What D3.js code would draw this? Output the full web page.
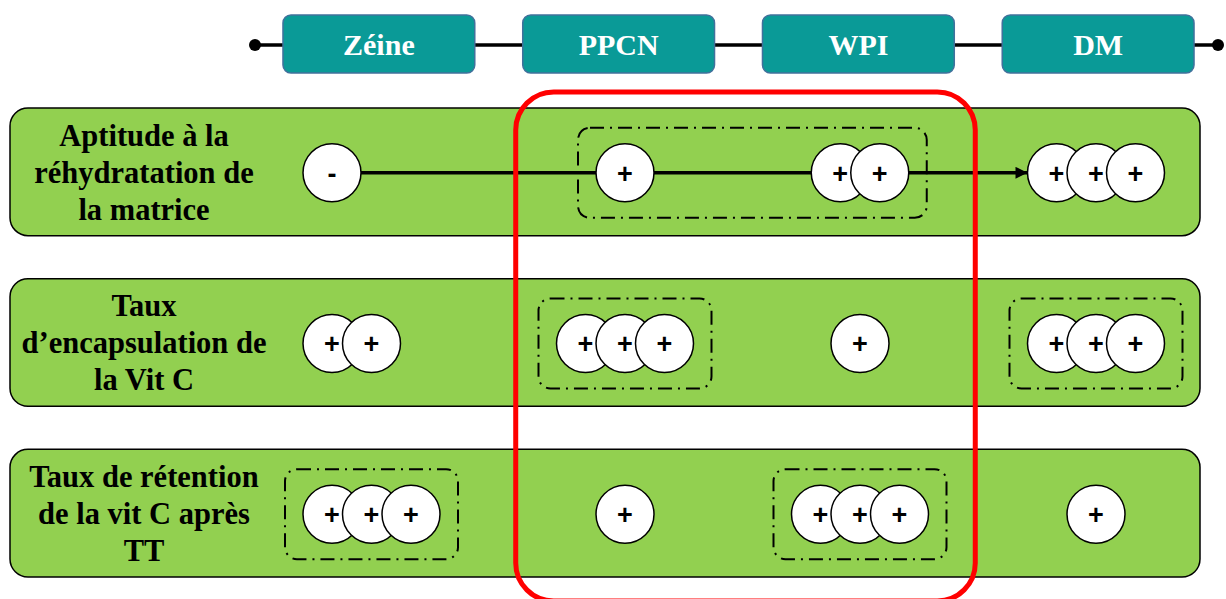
<!DOCTYPE html>
<html>
<head>
<meta charset="utf-8">
<script src="https://cdn.jsdelivr.net/npm/d3@7"></script>
<style>
  html, body { margin: 0; padding: 0; background: #fff; }
  svg { display: block; }
</style>
</head>
<body>
<svg id="chart" width="1226" height="599"></svg>
<script>
// ---------- data ----------
const columns = ["Zéine", "PPCN", "WPI", "DM"];
const criteria = [
  ["Aptitude à la", "réhydratation de", "la matrice"],
  ["Taux", "d’encapsulation de", "la Vit C"],
  ["Taux de rétention", "de la vit C après", "TT"]
];
const scores = [
  ["-", "+", "++", "+++"],
  ["++", "+++", "+", "+++"],
  ["+++", "+", "+++", "+"]
];
const groupedCols = [
  [["PPCN", "WPI"]],
  [["PPCN"], ["DM"]],
  [["Zéine"], ["WPI"]]
];
const trendRows = [0];
const highlighted = ["PPCN", "WPI"];

// ---------- layout ----------
const svg = d3.select("#chart");
const R = 29, STEP = 39.5;

const xHead = d3.scaleBand().domain(columns).range([259, 1218]).paddingInner(0.2).paddingOuter(0.1);
// anchor of each column's circle group; first column is left-aligned after the label area
const xMark = d3.scaleOrdinal().domain(columns).range([303, 625, 860, 1096]);
const alignOf = d3.scaleOrdinal().domain(columns).range(["start", "middle", "middle", "middle"]);
const yRow = d3.scaleBand().domain(d3.range(criteria.length)).range([108, 577]).paddingInner(0.252).paddingOuter(0);

function halfW(score) { return (score.length - 1) / 2 * STEP + R; }
function centerOf(score, col) {
  return alignOf(col) === "start" ? xMark(col) + halfW(score) : xMark(col);
}
function circlesOf(score, col) {
  const n = score.length;
  const cx = centerOf(score, col);
  return d3.range(n).map(i => ({ x: cx + (i - (n - 1) / 2) * STEP, sign: score[i] }));
}

// ---------- header ----------
const head = svg.append("g");
head.append("line")
  .attr("x1", 255).attr("x2", 1218).attr("y1", 45).attr("y2", 45)
  .attr("stroke", "#000").attr("stroke-width", 3.5);
head.selectAll("circle.end").data([255, 1218]).join("circle")
  .attr("cx", d => d).attr("cy", 45).attr("r", 6).attr("fill", "#000");
const hb = head.selectAll("g.hb").data(columns).join("g");
hb.append("rect")
  .attr("x", d => xHead(d)).attr("y", 15)
  .attr("width", xHead.bandwidth()).attr("height", 58)
  .attr("rx", 8).attr("fill", "#0a9a97").attr("stroke", "#41719c").attr("stroke-width", 1.5);
hb.append("text")
  .attr("x", d => xHead(d) + xHead.bandwidth() / 2).attr("y", 44).attr("dy", "0.35em")
  .attr("text-anchor", "middle")
  .attr("font-family", "'Liberation Serif', 'Times New Roman', serif")
  .attr("font-weight", "bold").attr("font-size", 30).attr("fill", "#fff")
  .text(d => d);

// ---------- rows ----------
const rows = svg.selectAll("g.row").data(criteria).join("g").attr("class", "row");
rows.append("rect")
  .attr("x", 10).attr("y", (d, i) => yRow(i))
  .attr("width", 1190).attr("height", yRow.bandwidth())
  .attr("rx", 18).attr("fill", "#92d050").attr("stroke", "#000").attr("stroke-width", 1.5);
rows.each(function (lines, i) {
  const cy = yRow(i) + yRow.bandwidth() / 2;
  d3.select(this).selectAll("text.lbl").data(lines).join("text")
    .attr("x", 144).attr("y", (d, k) => cy + (k - 1) * 37).attr("dy", "0.35em")
    .attr("text-anchor", "middle")
    .attr("font-family", "'Liberation Serif', 'Times New Roman', serif")
    .attr("font-weight", "bold").attr("font-size", 30.5).attr("fill", "#000")
    .text(d => d);
});

// ---------- dashed group boxes ----------
rows.each(function (lines, i) {
  const cy = yRow(i) + yRow.bandwidth() / 2 + 1;
  const g = d3.select(this);
  groupedCols[i].forEach(grp => {
    const left = d3.min(grp, c => { const s = scores[i][columns.indexOf(c)]; return centerOf(s, c) - halfW(s); }) - 18;
    const right = d3.max(grp, c => { const s = scores[i][columns.indexOf(c)]; return centerOf(s, c) + halfW(s); }) + 18;
    g.append("rect")
      .attr("x", left).attr("y", cy - 45).attr("width", right - left).attr("height", 90)
      .attr("rx", 12).attr("fill", "none").attr("stroke", "#000").attr("stroke-width", 2)
      .attr("stroke-dasharray", "14 6 2 6");
  });
});

// ---------- trend arrow ----------
const defs = svg.append("defs");
defs.append("marker").attr("id", "arrow")
  .attr("viewBox", "0 0 10 10").attr("refX", 10).attr("refY", 5)
  .attr("markerWidth", 16).attr("markerHeight", 12).attr("markerUnits", "userSpaceOnUse")
  .attr("orient", "auto")
  .append("path").attr("d", "M0,0 L10,5 L0,10 Z").attr("fill", "#000");
trendRows.forEach(i => {
  const cy = yRow(i) + yRow.bandwidth() / 2 + 1;
  const first = columns[0], last = columns[columns.length - 1];
  const s0 = scores[i][0], s1 = scores[i][columns.length - 1];
  const x1 = centerOf(s0, first) + halfW(s0);
  const x2 = centerOf(s1, last) - halfW(s1);
  svg.append("line")
    .attr("x1", x1).attr("x2", x2).attr("y1", cy).attr("y2", cy)
    .attr("stroke", "#000").attr("stroke-width", 3.5).attr("marker-end", "url(#arrow)");
});

// ---------- circles ----------
scores.forEach((row, i) => {
  const cy = yRow(i) + yRow.bandwidth() / 2 + 1;
  row.forEach((score, j) => {
    const g = svg.append("g");
    circlesOf(score, columns[j]).forEach(c => {
      g.append("circle").attr("cx", c.x).attr("cy", cy).attr("r", R)
        .attr("fill", "#fff").attr("stroke", "#000").attr("stroke-width", 1.5);
      g.append("text").attr("x", c.x).attr("y", cy).attr("dy", "0.36em")
        .attr("text-anchor", "middle")
        .attr("font-family", "'Liberation Sans', Arial, sans-serif")
        .attr("font-weight", "bold").attr("font-size", 27).attr("fill", "#000")
        .text(c.sign);
    });
  });
});

// ---------- highlight ----------
const hx1 = xHead(highlighted[0]) - 7;
const hx2 = xHead(highlighted[highlighted.length - 1]) + xHead.bandwidth() + 21;
svg.append("rect")
  .attr("x", hx1).attr("y", 92).attr("width", hx2 - hx1).attr("height", 509)
  .attr("rx", 38).attr("fill", "none").attr("stroke", "#ff0000").attr("stroke-width", 5);
</script>
</body>
</html>
